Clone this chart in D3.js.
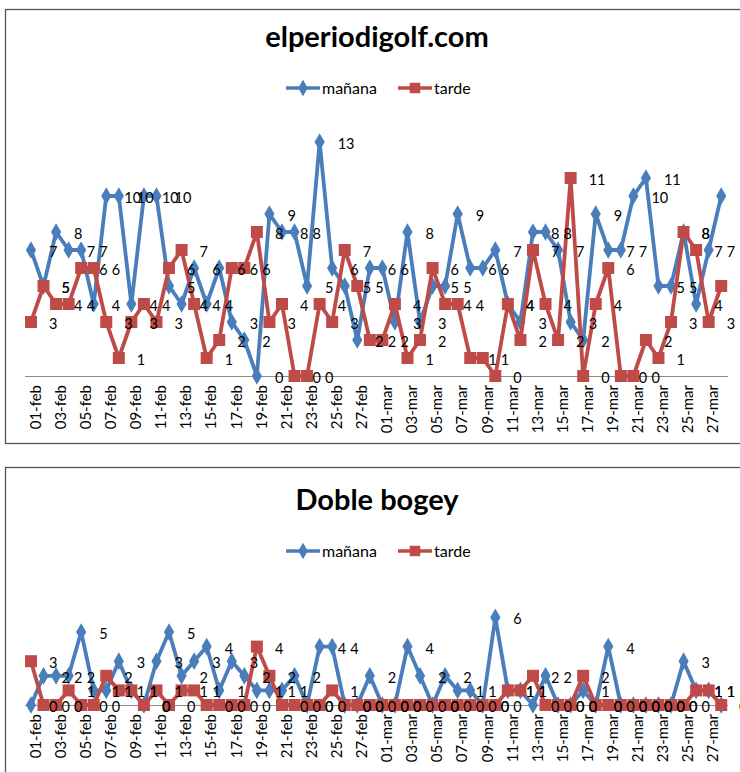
<!DOCTYPE html>
<html>
<head>
<meta charset="utf-8">
<script src="https://cdn.jsdelivr.net/npm/d3@7"></script>
<style>
  body { margin: 0; background: #fff; }
  svg { display: block; font-family: Lato, 'Open Sans', sans-serif; }
</style>
</head>
<body>
<svg id="chart" width="740" height="772"></svg>
<script>
// categories (one per day)
const days = [
  '01-feb','02-feb','03-feb','04-feb','05-feb','06-feb','07-feb','08-feb','09-feb','10-feb',
  '11-feb','12-feb','13-feb','14-feb','15-feb','16-feb','17-feb','18-feb','19-feb','20-feb',
  '21-feb','22-feb','23-feb','24-feb','25-feb','26-feb','27-feb','28-feb',
  '01-mar','02-mar','03-mar','04-mar','05-mar','06-mar','07-mar','08-mar','09-mar','10-mar',
  '11-mar','12-mar','13-mar','14-mar','15-mar','16-mar','17-mar','18-mar','19-mar','20-mar',
  '21-mar','22-mar','23-mar','24-mar','25-mar','26-mar','27-mar','28-mar'
];
// only every other day gets a tick label
const tickDays = ['01-feb','03-feb','05-feb','07-feb','09-feb','11-feb','13-feb','15-feb','17-feb',
  '19-feb','21-feb','23-feb','25-feb','27-feb','01-mar','03-mar','05-mar','07-mar','09-mar',
  '11-mar','13-mar','15-mar','17-mar','19-mar','21-mar','23-mar','25-mar','27-mar'];

const seriesNames = ['mañana', 'tarde'];

// elperiodigolf.com
const golfManana = [7,5,8,7,7,4,10,10,4,10,10,5,4,6,4,6,3,2,0,9,8,8,5,13,6,5,2,6,
  6,3,8,3,5,5,9,6,6,7,4,3,8,8,7,3,2,9,7,7,10,11,5,5,8,4,7,10];
const golfTarde = [3,5,4,4,6,6,3,1,3,4,3,6,7,4,1,2,6,6,8,3,4,0,0,4,3,7,5,2,
  2,4,1,2,6,4,4,1,1,0,4,2,7,4,2,11,0,4,6,0,0,2,1,3,8,7,3,5];

// Doble bogey
const bogeyManana = [0,2,2,2,5,1,1,3,1,0,3,5,2,3,4,1,3,2,1,1,1,2,0,4,4,0,0,2,
  0,0,4,2,0,2,1,1,0,6,1,1,0,2,0,0,1,0,4,0,0,0,0,0,3,1,1,0];
const bogeyTarde = [3,0,0,1,0,0,2,1,1,0,1,0,1,1,0,0,0,0,4,2,0,0,0,0,1,0,0,0,
  0,0,0,0,0,0,0,0,0,0,1,1,2,0,0,0,2,0,0,0,0,0,0,0,0,1,1,0];

const blue = '#4a7ebb';
const red = '#be4b48';

const svg = d3.select('#chart');

function drawChart(cfg) {
  const g = svg.append('g');

  g.append('rect')
    .attr('x', 5.5).attr('y', cfg.top + 0.5)
    .attr('width', 780).attr('height', cfg.frameH)
    .attr('fill', '#fff')
    .attr('stroke', '#555').attr('stroke-width', 1.3);

  g.append('text')
    .attr('x', 377).attr('y', cfg.titleY)
    .attr('text-anchor', 'middle')
    .attr('font-weight', 'bold')
    .attr('font-size', 29)
    .text(cfg.title);

  // legend
  const leg = g.append('g').attr('transform', `translate(0, ${cfg.legendY})`);
  const legItems = [
    { name: seriesNames[0], color: blue, shape: d3.symbolDiamond, x: 286 },
    { name: seriesNames[1], color: red, shape: d3.symbolSquare, x: 398 }
  ];
  legItems.forEach(function(it) {
    leg.append('line')
      .attr('x1', it.x).attr('x2', it.x + 34)
      .attr('y1', 0).attr('y2', 0)
      .attr('stroke', it.color).attr('stroke-width', 3.5);
    leg.append('path')
      .attr('d', d3.symbol().type(it.shape).size(it.shape === d3.symbolSquare ? 110 : 80)())
      .attr('transform', `translate(${it.x + 17}, 0)`)
      .attr('fill', it.color);
    leg.append('text')
      .attr('x', it.x + 36).attr('y', 0).attr('dy', '0.35em')
      .attr('font-size', 16)
      .text(it.name);
  });

  const x = d3.scalePoint()
    .domain(days)
    .range([24.7, 727.5])
    .padding(0.5);

  const y = d3.scaleLinear()
    .domain([0, cfg.yMax])
    .range([cfg.axisY, cfg.axisY - cfg.yMax * cfg.unit]);

  const xAxis = d3.axisBottom(x)
    .tickValues(tickDays)
    .tickSize(0)
    .tickSizeOuter(0);

  const ax = g.append('g')
    .attr('transform', `translate(0, ${cfg.axisY})`)
    .call(xAxis);
  ax.select('.domain').attr('stroke', '#8c8c8c').attr('stroke-width', 1.2);
  ax.selectAll('text')
    .attr('transform', 'rotate(-90)')
    .attr('text-anchor', 'end')
    .attr('x', -9)
    .attr('y', 4)
    .attr('dy', '0.35em')
    .attr('font-size', 15)
    .attr('font-family', "Lato, 'Open Sans', sans-serif")
    .attr('fill', '#000');

  const series = [
    { values: cfg.manana, color: blue, shape: d3.symbolDiamond, size: 90 },
    { values: cfg.tarde, color: red, shape: d3.symbolSquare, size: 144 }
  ];

  const line = d3.line()
    .x(function(d, i) { return x(days[i]); })
    .y(function(d) { return y(d); });

  series.forEach(function(s) {
    g.append('path')
      .datum(s.values)
      .attr('fill', 'none')
      .attr('stroke', s.color)
      .attr('stroke-width', 3.8)
      .attr('stroke-linejoin', 'round')
      .attr('d', line);

    g.selectAll(null)
      .data(s.values)
      .join('path')
      .attr('d', d3.symbol().type(s.shape).size(s.size)())
      .attr('transform', function(d, i) { return `translate(${x(days[i])}, ${y(d)})`; })
      .attr('fill', s.color);
  });

  // data labels, right of each point
  series.forEach(function(s) {
    g.selectAll(null)
      .data(s.values)
      .join('text')
      .attr('x', function(d, i) { return x(days[i]) + 18; })
      .attr('y', function(d) { return y(d) + 2; })
      .attr('dy', '0.35em')
      .attr('font-size', 14.5)
      .text(function(d) { return d; });
  });
}

drawChart({
  title: 'elperiodigolf.com',
  top: 9, frameH: 434,
  titleY: 47, legendY: 88,
  axisY: 376, unit: 18, yMax: 14,
  manana: golfManana, tarde: golfTarde
});

drawChart({
  title: 'Doble bogey',
  top: 467, frameH: 360,
  titleY: 510, legendY: 551,
  axisY: 705, unit: 14.6, yMax: 7,
  manana: bogeyManana, tarde: bogeyTarde
});
</script>
</body>
</html>
